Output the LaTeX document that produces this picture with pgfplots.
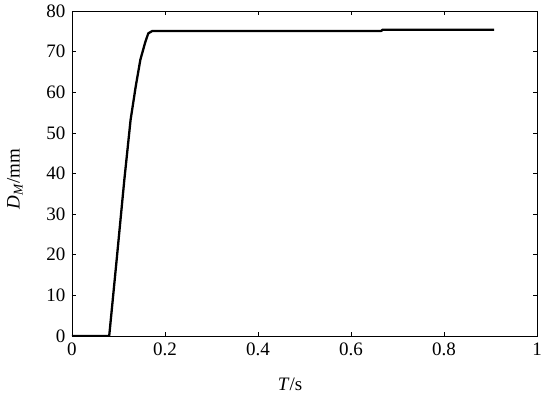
\documentclass[border=0pt]{standalone}
\usepackage{fontspec}
\setmainfont{Liberation Serif}
\usepackage{pgfplots}
\pgfplotsset{compat=1.18}

\begin{document}
\fontsize{19bp}{22bp}\selectfont
\begin{tikzpicture}
\useasboundingbox (-72bp,-67bp) rectangle (478bp,336bp);
\begin{axis}[
    at={(0,0)}, anchor=south west,
    scale only axis,
    width=465bp, height=325bp,
    xmin=0, xmax=1, ymin=0, ymax=80,
    xtick={0,0.2,...,1}, ytick={0,10,...,80},
    xticklabels={0,0.2,0.4,0.6,0.8,1},
    yticklabel={\pgfmathprintnumber{\tick}},
    tick align=inside,
    major tick length=4bp,
    tick style={black, line width=0.7pt},
    axis line style={line width=0.9pt},
    /pgf/number format/assume math mode=true,
    ticklabel style={font=\fontsize{19bp}{22bp}\selectfont},
    label style={font=\fontsize{19bp}{22bp}\selectfont},
    xlabel={\textit{T}/s},
    ylabel={\textit{D\textsubscript{M}}/mm},
    xlabel style={at={(axis description cs:0.469,-0.11)}, anchor=north},
    ylabel style={at={(axis description cs:-0.092,0.483)}, anchor=south},
]
\addplot[black, line width=2.3pt, line join=round] coordinates {
  (0,0) (0.080,0) (0.096,18.7) (0.1125,38.4) (0.126,53.2) (0.137,61.4)
  (0.147,68) (0.157,72.1) (0.164,74.5) (0.173,75.1) (0.665,75.1)
  (0.668,75.4) (0.908,75.4)
};
\end{axis}
\end{tikzpicture}
\end{document}
